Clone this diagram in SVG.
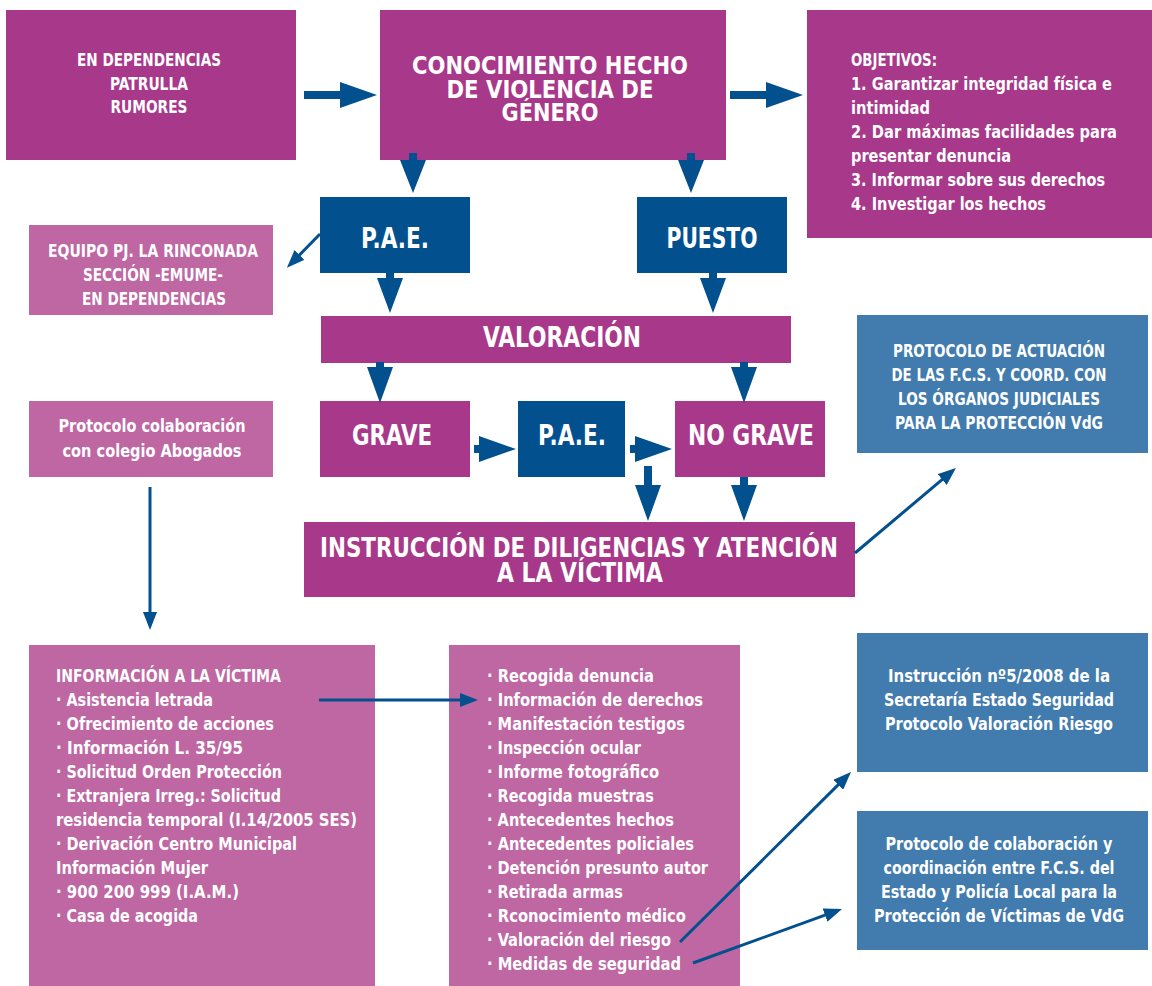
<svg xmlns="http://www.w3.org/2000/svg" width="1152" height="986" viewBox="0 0 1152 986">
<defs>
<marker id="ah" markerUnits="userSpaceOnUse" markerWidth="18" markerHeight="14" refX="8" refY="7" orient="auto">
<path d="M0,0 L18,7 L0,14 z" fill="#03508F"/>
</marker>
<style>
.mg{fill:#A8388A}.lm{fill:#BE67A3}.db{fill:#03508F}.mb{fill:#427BAD}
text{font-family:"Liberation Sans Narrow","DejaVu Sans Condensed","Liberation Sans",sans-serif;font-weight:bold;fill:#fff}
.t{font-size:17px}.L{font-size:28px}.c{text-anchor:middle}
.ar{fill:#03508F}
.ln{stroke:#03508F;stroke-width:3;fill:none;marker-end:url(#ah)}
</style>
</defs>
<rect width="1152" height="986" fill="#fff"/>

<g id="origen">
<rect class="mg" x="6" y="10" width="290" height="150"/>
<text class="t c" x="149" y="66" textLength="144" lengthAdjust="spacingAndGlyphs">EN DEPENDENCIAS</text>
<text class="t c" x="149" y="90" textLength="78" lengthAdjust="spacingAndGlyphs">PATRULLA</text>
<text class="t c" x="149" y="113" textLength="77" lengthAdjust="spacingAndGlyphs">RUMORES</text>
</g>

<g id="conocimiento">
<rect class="mg" x="380" y="10" width="346" height="150"/>
<text class="c" style="font-size:24px" x="550" y="74" textLength="276" lengthAdjust="spacingAndGlyphs">CONOCIMIENTO HECHO</text>
<text class="c" style="font-size:24px" x="550" y="98" textLength="207" lengthAdjust="spacingAndGlyphs">DE VIOLENCIA DE</text>
<text class="c" style="font-size:24px" x="550" y="121" textLength="97" lengthAdjust="spacingAndGlyphs">GÉNERO</text>
</g>

<g id="objetivos">
<rect class="mg" x="807" y="10" width="345" height="228"/>
<text class="t" x="851" y="66" textLength="86" lengthAdjust="spacingAndGlyphs">OBJETIVOS:</text>
<text class="t" x="851" y="90" textLength="261" lengthAdjust="spacingAndGlyphs">1. Garantizar integridad física e</text>
<text class="t" x="851" y="114" textLength="79" lengthAdjust="spacingAndGlyphs">intimidad</text>
<text class="t" x="851" y="138" textLength="266" lengthAdjust="spacingAndGlyphs">2. Dar máximas facilidades para</text>
<text class="t" x="851" y="162" textLength="160" lengthAdjust="spacingAndGlyphs">presentar denuncia</text>
<text class="t" x="851" y="186" textLength="254" lengthAdjust="spacingAndGlyphs">3. Informar sobre sus derechos</text>
<text class="t" x="851" y="210" textLength="195" lengthAdjust="spacingAndGlyphs">4. Investigar los hechos</text>
</g>

<g id="pae1">
<rect class="db" x="320" y="197" width="150" height="76"/>
<text class="L c" x="395" y="248" textLength="68" lengthAdjust="spacingAndGlyphs">P.A.E.</text>
</g>

<g id="puesto">
<rect class="db" x="637" y="197" width="150" height="76"/>
<text class="L c" x="712" y="248" textLength="91" lengthAdjust="spacingAndGlyphs">PUESTO</text>
</g>

<g id="equipo">
<rect class="lm" x="29" y="225" width="244" height="90"/>
<text class="t c" x="153" y="257" textLength="210" lengthAdjust="spacingAndGlyphs">EQUIPO PJ. LA RINCONADA</text>
<text class="t c" x="153" y="281" textLength="140" lengthAdjust="spacingAndGlyphs">SECCIÓN -EMUME-</text>
<text class="t c" x="154" y="305" textLength="144" lengthAdjust="spacingAndGlyphs">EN DEPENDENCIAS</text>
</g>

<g id="valoracion">
<rect class="mg" x="321" y="316" width="470" height="47"/>
<text class="L c" x="562" y="347" textLength="158" lengthAdjust="spacingAndGlyphs">VALORACIÓN</text>
</g>

<g id="protocolo-actuacion">
<rect class="mb" x="857" y="315" width="291" height="138"/>
<text class="t c" x="999" y="357" textLength="212" lengthAdjust="spacingAndGlyphs">PROTOCOLO DE ACTUACIÓN</text>
<text class="t c" x="999" y="381" textLength="215" lengthAdjust="spacingAndGlyphs">DE LAS F.C.S. Y COORD. CON</text>
<text class="t c" x="999" y="405" textLength="202" lengthAdjust="spacingAndGlyphs">LOS ÓRGANOS JUDICIALES</text>
<text class="t c" x="999" y="429" textLength="208" lengthAdjust="spacingAndGlyphs">PARA LA PROTECCIÓN VdG</text>
</g>

<g id="protocolo-abogados">
<rect class="lm" x="29" y="401" width="244" height="76"/>
<text class="t c" x="152" y="432" textLength="187" lengthAdjust="spacingAndGlyphs">Protocolo colaboración</text>
<text class="t c" x="152" y="457" textLength="179" lengthAdjust="spacingAndGlyphs">con colegio Abogados</text>
</g>

<g id="grave">
<rect class="mg" x="320" y="401" width="150" height="76"/>
<text class="L c" x="392" y="445" textLength="80" lengthAdjust="spacingAndGlyphs">GRAVE</text>
</g>

<g id="pae2">
<rect class="db" x="518" y="401" width="107" height="76"/>
<text class="L c" x="572" y="445" textLength="68" lengthAdjust="spacingAndGlyphs">P.A.E.</text>
</g>

<g id="nograve">
<rect class="mg" x="675" y="401" width="150" height="76"/>
<text class="L c" x="751" y="445" textLength="126" lengthAdjust="spacingAndGlyphs">NO GRAVE</text>
</g>

<g id="instruccion">
<rect class="mg" x="304" y="522" width="551" height="75"/>
<text class="c" style="font-size:26px" x="579" y="557" textLength="518" lengthAdjust="spacingAndGlyphs">INSTRUCCIÓN DE DILIGENCIAS Y ATENCIÓN</text>
<text class="c" style="font-size:26px" x="580" y="582" textLength="166" lengthAdjust="spacingAndGlyphs">A LA VÍCTIMA</text>
</g>

<g id="informacion">
<rect class="lm" x="29" y="645" width="346" height="341"/>
<text class="t" x="56" y="682" textLength="225" lengthAdjust="spacingAndGlyphs">INFORMACIÓN A LA VÍCTIMA</text>
<text class="t" x="56" y="706" textLength="157" lengthAdjust="spacingAndGlyphs">· Asistencia letrada</text>
<text class="t" x="56" y="730" textLength="218" lengthAdjust="spacingAndGlyphs">· Ofrecimiento de acciones</text>
<text class="t" x="56" y="754" textLength="187" lengthAdjust="spacingAndGlyphs">· Información L. 35/95</text>
<text class="t" x="56" y="778" textLength="226" lengthAdjust="spacingAndGlyphs">· Solicitud Orden Protección</text>
<text class="t" x="56" y="802" textLength="225" lengthAdjust="spacingAndGlyphs">· Extranjera Irreg.: Solicitud</text>
<text class="t" x="56" y="826" textLength="301" lengthAdjust="spacingAndGlyphs">residencia temporal (I.14/2005 SES)</text>
<text class="t" x="56" y="850" textLength="241" lengthAdjust="spacingAndGlyphs">· Derivación Centro Municipal</text>
<text class="t" x="56" y="874" textLength="152" lengthAdjust="spacingAndGlyphs">Información Mujer</text>
<text class="t" x="56" y="898" textLength="183" lengthAdjust="spacingAndGlyphs">· 900 200 999 (I.A.M.)</text>
<text class="t" x="56" y="922" textLength="142" lengthAdjust="spacingAndGlyphs">· Casa de acogida</text>
</g>

<g id="diligencias">
<rect class="lm" x="449" y="645" width="291" height="341"/>
<text class="t" x="487" y="682" textLength="167" lengthAdjust="spacingAndGlyphs">· Recogida denuncia</text>
<text class="t" x="487" y="706" textLength="216" lengthAdjust="spacingAndGlyphs">· Información de derechos</text>
<text class="t" x="487" y="730" textLength="198" lengthAdjust="spacingAndGlyphs">· Manifestación testigos</text>
<text class="t" x="487" y="754" textLength="154" lengthAdjust="spacingAndGlyphs">· Inspección ocular</text>
<text class="t" x="487" y="778" textLength="172" lengthAdjust="spacingAndGlyphs">· Informe fotográfico</text>
<text class="t" x="487" y="802" textLength="167" lengthAdjust="spacingAndGlyphs">· Recogida muestras</text>
<text class="t" x="487" y="826" textLength="187" lengthAdjust="spacingAndGlyphs">· Antecedentes hechos</text>
<text class="t" x="487" y="850" textLength="207" lengthAdjust="spacingAndGlyphs">· Antecedentes policiales</text>
<text class="t" x="487" y="874" textLength="221" lengthAdjust="spacingAndGlyphs">· Detención presunto autor</text>
<text class="t" x="487" y="898" textLength="136" lengthAdjust="spacingAndGlyphs">· Retirada armas</text>
<text class="t" x="487" y="922" textLength="199" lengthAdjust="spacingAndGlyphs">· Rconocimiento médico</text>
<text class="t" x="487" y="946" textLength="184" lengthAdjust="spacingAndGlyphs">· Valoración del riesgo</text>
<text class="t" x="487" y="970" textLength="194" lengthAdjust="spacingAndGlyphs">· Medidas de seguridad</text>
</g>

<g id="instruccion-5-2008">
<rect class="mb" x="857" y="633" width="291" height="139"/>
<text class="t c" x="999" y="682" textLength="222" lengthAdjust="spacingAndGlyphs">Instrucción nº5/2008 de la</text>
<text class="t c" x="999" y="706" textLength="230" lengthAdjust="spacingAndGlyphs">Secretaría Estado Seguridad</text>
<text class="t c" x="999" y="730" textLength="228" lengthAdjust="spacingAndGlyphs">Protocolo Valoración Riesgo</text>
</g>

<g id="protocolo-colaboracion">
<rect class="mb" x="857" y="811" width="291" height="139"/>
<text class="t c" x="999" y="850" textLength="227" lengthAdjust="spacingAndGlyphs">Protocolo de colaboración y</text>
<text class="t c" x="999" y="874" textLength="231" lengthAdjust="spacingAndGlyphs">coordinación entre F.C.S. del</text>
<text class="t c" x="999" y="898" textLength="236" lengthAdjust="spacingAndGlyphs">Estado y Policía Local para la</text>
<text class="t c" x="999" y="922" textLength="250" lengthAdjust="spacingAndGlyphs">Protección de Víctimas de VdG</text>
</g>

<g id="connectors">
<polygon class="ar" points="304,91 340,91 340,82 377,95 340,108 340,99 304,99"/>
<polygon class="ar" points="730,91 766,91 766,82 803,95 766,108 766,99 730,99"/>
<polygon class="ar" points="409,153 417,153 417,160 426,160 413,193 400,160 409,160"/>
<polygon class="ar" points="687,153 695,153 695,160 704,160 691,193 678,160 687,160"/>
<polygon class="ar" points="386,273 394,273 394,278 403,278 390,313 377,278 386,278"/>
<polygon class="ar" points="709,273 717,273 717,278 726,278 713,313 700,278 709,278"/>
<polygon class="ar" points="376,362 384,362 384,367 393,367 380,403 367,367 376,367"/>
<polygon class="ar" points="740,362 748,362 748,367 757,367 744,403 731,367 740,367"/>
<polygon class="ar" points="474,445 479,445 479,436 516,449 479,462 479,453 474,453"/>
<polygon class="ar" points="630,445 635,445 635,436 672,449 635,462 635,453 630,453"/>
<polygon class="ar" points="644,466 652,466 652,485 661,485 648,521 635,485 644,485"/>
<polygon class="ar" points="740,477 748,477 748,485 757,485 744,521 731,485 740,485"/>
<line class="ln" x1="320" y1="234" x2="293.9" y2="260.7"/>
<line class="ln" x1="150" y1="487" x2="150" y2="620"/>
<line class="ln" x1="319" y1="700" x2="468" y2="700"/>
<line class="ln" x1="855" y1="553" x2="948.3" y2="474.4"/>
<line class="ln" x1="680" y1="942" x2="843.9" y2="779.1"/>
<line class="ln" x1="693" y1="963" x2="832.6" y2="912.4"/>
</g>
</svg>
